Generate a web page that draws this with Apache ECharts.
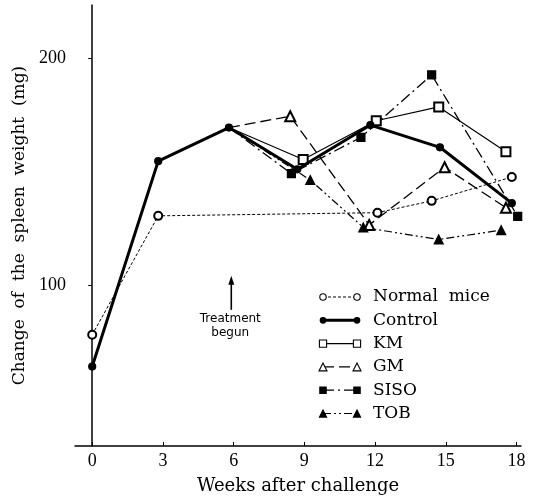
<!DOCTYPE html>
<html>
<head>
<meta charset="UTF-8">
<title>Change of the spleen weight</title>
<script src="https://cdn.jsdelivr.net/npm/echarts@6/dist/echarts.min.js"></script>
<style>
html, body { margin: 0; padding: 0; background: #fff; }
#main { width: 541px; height: 500px; }
</style>
</head>
<body>
<div id="main"></div>
<script>
// weeks after challenge -> spleen weight (mg)
var normalWeeks = [0, 2.8, 12.1, 14.4, 17.8];
var normalMice  = [78, 130.4, 131.8, 137, 147.5];
var controlWeeks = [0, 2.8, 5.8, 8.7, 11.8, 14.75, 17.8];
var control      = [64, 154.5, 169.3, 150.9, 170.4, 160.6, 136];
// treated groups branch off the control curve at week 6
var kmWeeks = [5.8, 8.95, 12.05, 14.7, 17.55];
var km      = [169.3, 155.2, 172.3, 178.4, 158.6];
var gmWeeks = [5.8, 8.4, 11.75, 14.95, 17.55];
var gm      = [169.3, 174.3, 126.4, 151.8, 134];
var sisoWeeks = [5.8, 8.45, 11.4, 14.4, 18.05];
var siso      = [169.3, 149, 165, 192.5, 130.2];
var tobWeeks = [5.8, 9.25, 11.5, 14.7, 17.35];
var tob      = [169.3, 146.2, 125.3, 120, 124.1];

var weekTicks = [0, 3, 6, 9, 12, 15, 18];
var weightTicks = [100, 200];
var groupNames = ['Normal  mice', 'Control', 'KM', 'GM', 'SISO', 'TOB'];

function pts(xs, ys, branch) {
  return xs.map(function (x, i) {
    // the shared starting point only carries the control marker
    if (branch && i == 0) return { value: [x, ys[i]], symbol: 'none' };
    return [x, ys[i]];
  });
}

// line / marker look of each group
var looks = [
  { mark: 'circle',   filled: false, size: 8, width: 1,   dash: [3, 2] },
  { mark: 'circle',   filled: true,  size: 7, width: 3,   dash: 'solid' },
  { mark: 'rect',     filled: false, size: 9, width: 1.2, dash: 'solid' },
  { mark: 'triangle', filled: false, size: 10, width: 1.3, dash: [11, 5] },
  { mark: 'rect',     filled: true,  size: 8, width: 1.3, dash: [11, 4, 2, 4] },
  { mark: 'triangle', filled: true,  size: 9, width: 1.2, dash: [8, 3, 2, 3, 2, 3] }
];
var seriesData = [
  pts(normalWeeks, normalMice),
  pts(controlWeeks, control),
  pts(kmWeeks, km, true),
  pts(gmWeeks, gm, true),
  pts(sisoWeeks, siso, true),
  pts(tobWeeks, tob, true)
];

var series = groupNames.map(function (n, i) {
  var lk = looks[i];
  var sym = lk.filled ? lk.mark : 'empty' + lk.mark.charAt(0).toUpperCase() + lk.mark.slice(1);
  return {
    name: n,
    type: 'line',
    data: seriesData[i],
    symbol: sym,
    symbolSize: lk.size,
    z: i == 1 ? 5 : 3,
    lineStyle: { color: '#000', width: lk.width, type: lk.dash },
    itemStyle: { color: '#000', borderColor: '#000', borderWidth: 1.2 }
  };
});

var myChart = echarts.init(document.getElementById('main'));
var option = {
  animation: false,
  backgroundColor: '#fff',
  grid: { left: 75, right: 20, top: 5, bottom: 48 },
  xAxis: {
    type: 'value',
    min: -0.73,
    max: 18.19,
    name: 'Weeks after challenge',
    nameLocation: 'middle',
    nameGap: 31,
    nameTextStyle: { fontFamily: 'DejaVu Serif', fontSize: 18, color: '#000' },
    axisLine: { lineStyle: { color: '#000', width: 1.5 } },
    axisTick: { customValues: weekTicks, inside: true, length: 4, lineStyle: { color: '#000' } },
    axisLabel: { customValues: weekTicks, margin: 6, fontFamily: 'Liberation Serif', fontSize: 18, color: '#000' },
    splitLine: { show: false }
  },
  yAxis: {
    type: 'value',
    min: 29,
    max: 223.3,
    name: 'Change  of  the  spleen  weight  (mg)',
    nameLocation: 'middle',
    nameGap: 44,
    nameTextStyle: { fontFamily: 'DejaVu Serif', fontSize: 17, color: '#000' },
    axisLine: { show: true, lineStyle: { color: '#000', width: 1.5 } },
    axisTick: { show: true, customValues: weightTicks, length: 4, lineStyle: { color: '#000' } },
    axisLabel: { customValues: weightTicks, margin: 9, fontFamily: 'Liberation Serif', fontSize: 18, color: '#000' },
    splitLine: { show: false }
  },
  series: series
};
myChart.setOption(option);

// hand-drawn style legend and the treatment note
function marker(lk, cx, cy) {
  var s = lk.size * 0.8;
  var style = { fill: lk.filled ? '#000' : '#fff', stroke: '#000', lineWidth: 1.1 };
  if (lk.mark == 'circle') {
    return { type: 'circle', shape: { cx: cx, cy: cy, r: s / 2 }, style: style, z: 20 };
  }
  if (lk.mark == 'rect') {
    return { type: 'rect', shape: { x: cx - s / 2, y: cy - s / 2, width: s, height: s }, style: style, z: 20 };
  }
  return { type: 'polygon', shape: { points: [[cx, cy - s / 2], [cx + s / 2, cy + s / 2], [cx - s / 2, cy + s / 2]] }, style: style, z: 20 };
}

var gr = [];
groupNames.forEach(function (n, i) {
  var lk = looks[i];
  var y = 297 + i * 23.3;
  gr.push({
    type: 'line', shape: { x1: 323, y1: y, x2: 357, y2: y }, z: 19,
    style: { stroke: '#000', lineWidth: lk.width, lineDash: lk.dash == 'solid' ? null : lk.dash }
  });
  gr.push(marker(lk, 323, y));
  gr.push(marker(lk, 357, y));
  gr.push({
    type: 'text', x: 373, y: y, z: 20,
    style: { text: n, fontFamily: 'DejaVu Serif', fontSize: 17, fill: '#000', verticalAlign: 'middle' }
  });
});

var tip = myChart.convertToPixel({ gridIndex: 0 }, [5.9, 104]);
var foot = myChart.convertToPixel({ gridIndex: 0 }, [5.9, 89]);
gr.push({ type: 'line', shape: { x1: tip[0], y1: tip[1] + 5, x2: foot[0], y2: foot[1] }, style: { stroke: '#000', lineWidth: 1.6 } });
gr.push({ type: 'polygon', shape: { points: [[tip[0], tip[1]], [tip[0] + 3, tip[1] + 9], [tip[0] - 3, tip[1] + 9]] }, style: { fill: '#000' } });
gr.push({
  type: 'text', x: foot[0] - 1, y: foot[1] + 2,
  style: { text: 'Treatment\nbegun', fontFamily: 'DejaVu Sans', fontSize: 12, lineHeight: 14, fill: '#000', align: 'center' }
});
myChart.setOption({ graphic: gr });
</script>
</body>
</html>
